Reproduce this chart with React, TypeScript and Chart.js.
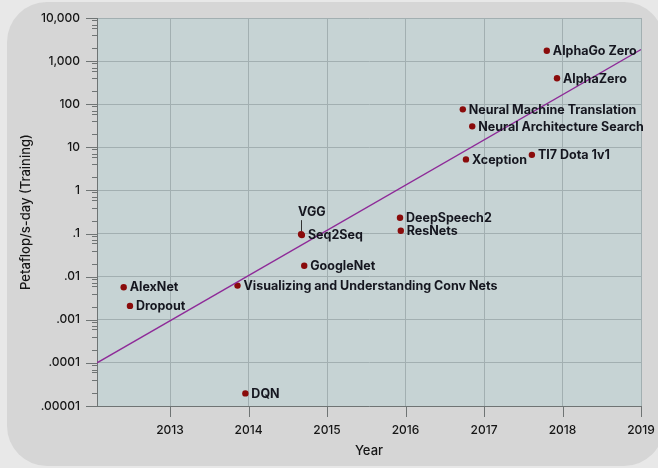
import React, { useEffect, useRef } from "react";
import { Chart, registerables } from "chart.js";

Chart.register(...registerables);

const names = [
  "AlexNet",
  "Dropout",
  "Visualizing and Understanding Conv Nets",
  "DQN",
  "GoogleNet",
  "Seq2Seq",
  "VGG",
  "DeepSpeech2",
  "ResNets",
  "Neural Machine Translation",
  "Neural Architecture Search",
  "Xception",
  "TI7 Dota 1v1",
  "AlphaGo Zero",
  "AlphaZero",
];
const years = [
  2012.41, 2012.49, 2013.86, 2013.96, 2014.71, 2014.68, 2014.67, 2015.93, 2015.94,
  2016.73, 2016.85, 2016.77, 2017.61, 2017.8, 2017.93,
];
const values = [
  0.0057, 0.0021, 0.0062, 0.0000196, 0.0179, 0.092, 0.097, 0.233, 0.116, 76, 30.7,
  5.25, 6.7, 1740, 400,
];
const labelAbove = ["VGG"];

const trendYears = [2012.07, 2019];
const trendValues = [0.0001, 1860];

const yearTicks = [2013, 2014, 2015, 2016, 2017, 2018, 2019];
const yTickValues = [1e-5, 1e-4, 1e-3, 1e-2, 1e-1, 1, 10, 100, 1000, 10000];
const yTickLabels = [".00001", ".0001", ".001", ".01", ".1", "1", "10", "100", "1,000", "10,000"];
const minorSignificands = [2, 4, 6, 7, 9];

const FONT = "Inter, 'Open Sans', 'DejaVu Sans', sans-serif";

export default function App() {
  const ref = useRef<HTMLCanvasElement | null>(null);

  useEffect(() => {
    if (!ref.current) return;

    const bgPlugin = {
      id: "plotBg",
      beforeDraw(chart: any) {
        const { ctx, chartArea: a } = chart;
        ctx.save();
        ctx.fillStyle = "#c6d3d4";
        ctx.fillRect(a.left, a.top, a.right - a.left, a.bottom - a.top);
        ctx.restore();
      },
    };

    const tickPlugin = {
      id: "tickMarks",
      afterDraw(chart: any) {
        const { ctx, chartArea: a, scales } = chart;
        const y = scales.y;
        const x = scales.x;
        ctx.save();
        ctx.strokeStyle = "#6f7474";
        ctx.lineWidth = 1;
        ctx.beginPath();
        for (const v of yTickValues) {
          const py = Math.round(y.getPixelForValue(v)) + 0.5;
          ctx.moveTo(a.left - 11, py);
          ctx.lineTo(a.left, py);
          if (v < 10000) {
            for (const s of minorSignificands) {
              const pm = Math.round(y.getPixelForValue(v * s)) + 0.5;
              ctx.moveTo(a.left - 5, pm);
              ctx.lineTo(a.left, pm);
            }
          }
        }
        for (const yr of yearTicks) {
          const px = Math.round(x.getPixelForValue(yr)) + 0.5;
          ctx.moveTo(px, a.bottom);
          ctx.lineTo(px, a.bottom + 11);
        }
        ctx.stroke();
        ctx.restore();
      },
    };

    const labelPlugin = {
      id: "pointLabels",
      afterDatasetsDraw(chart: any) {
        const { ctx } = chart;
        const meta = chart.getDatasetMeta(1);
        ctx.save();
        ctx.font = `bold 12.5px ${FONT}`;
        ctx.fillStyle = "#15161f";
        ctx.textBaseline = "middle";
        meta.data.forEach((pt: any, i: number) => {
          const name = names[i];
          if (labelAbove.includes(name)) {
            ctx.strokeStyle = "#333";
            ctx.lineWidth = 1;
            ctx.beginPath();
            ctx.moveTo(Math.round(pt.x) + 0.5, pt.y - 3);
            ctx.lineTo(Math.round(pt.x) + 0.5, pt.y - 14);
            ctx.stroke();
            ctx.textAlign = "left";
            ctx.fillText(name, pt.x - 3, pt.y - 22);
          } else {
            ctx.textAlign = "left";
            ctx.fillText(name, pt.x + 6, pt.y + 0.5);
          }
        });
        ctx.restore();
      },
    };

    const chart = new Chart(ref.current, {
      type: "scatter",
      data: {
        datasets: [
          {
            type: "line",
            data: trendYears.map((yr, i) => ({ x: yr, y: trendValues[i] })),
            borderColor: "#8e2a98",
            borderWidth: 1.4,
            pointRadius: 0,
            fill: false,
          } as any,
          {
            data: years.map((yr, i) => ({ x: yr, y: values[i] })),
            backgroundColor: "#8a0b0b",
            borderColor: "#8a0b0b",
            pointRadius: 3.2,
            borderWidth: 0,
          },
        ],
      },
      options: {
        responsive: false,
        animation: false,
        layout: { padding: { left: 0, right: 17, top: 18, bottom: 0 } },
        plugins: {
          legend: { display: false },
          tooltip: { enabled: false },
        },
        scales: {
          x: {
            type: "linear",
            min: 2012.07,
            max: 2019,
            afterBuildTicks: (s: any) => {
              s.ticks = yearTicks.map((v) => ({ value: v }));
            },
            afterFit: (s: any) => {
              s.height = 62;
              s.paddingLeft = 0;
              s.paddingRight = 0;
            },
            ticks: {
              callback: (v: any) => String(v),
              color: "#151515",
              font: { family: FONT, size: 12, weight: 500 },
              padding: 17,
              maxRotation: 0,
            },
            grid: { color: "#a2afb1", drawTicks: false, lineWidth: 1 },
            border: { color: "#6f7474", width: 1 },
            title: {
              display: true,
              text: "Year",
              color: "#151515",
              font: { family: FONT, size: 13, weight: 500 },
              padding: { top: 0, bottom: 9 },
            },
          },
          y: {
            type: "logarithmic",
            min: 1e-5,
            max: 1e4,
            afterBuildTicks: (s: any) => {
              s.ticks = yTickValues.map((v) => ({ value: v, major: true }));
            },
            afterFit: (s: any) => {
              s.width = 97;
              s.paddingTop = 0;
              s.paddingBottom = 0;
            },
            ticks: {
              callback: (_v: any, i: number) => yTickLabels[i],
              color: "#151515",
              font: { family: FONT, size: 12, weight: 500 },
              padding: 17,
              autoSkip: false,
            },
            grid: { color: "#a2afb1", drawTicks: false, lineWidth: 1 },
            border: { color: "#6f7474", width: 1 },
            title: {
              display: true,
              text: "Petaflop/s-day (Training)",
              color: "#151515",
              font: { family: FONT, size: 13, weight: 500 },
              padding: { top: 18, bottom: 0 },
            },
          },
        },
      },
      plugins: [bgPlugin, tickPlugin, labelPlugin],
    });

    return () => chart.destroy();
  }, []);

  return (
    <div
      style={{
        position: "fixed",
        left: 0,
        top: 0,
        width: 658,
        height: 468,
        overflow: "hidden",
        background: "#e8e8e8",
      }}
    >
      <div
        style={{
          position: "absolute",
          left: 7,
          top: 2,
          width: 657,
          height: 464,
          borderRadius: 40,
          background: "#d6d6d6",
        }}
      />
      <canvas
        ref={ref}
        width={658}
        height={468}
        style={{ position: "absolute", left: 0, top: 0, width: 658, height: 468 }}
      />
    </div>
  );
}
